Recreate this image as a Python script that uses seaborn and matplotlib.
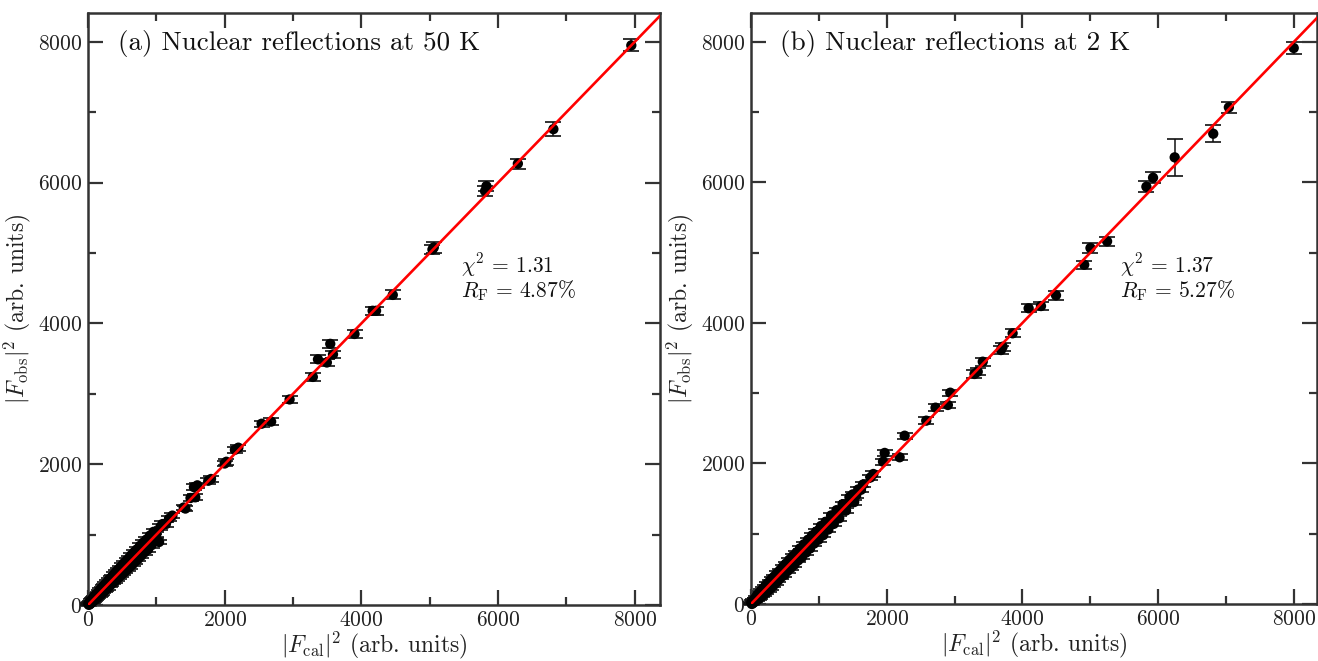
import numpy as np
import pandas as pd
import matplotlib
matplotlib.use("Agg")
import matplotlib.pyplot as plt
from matplotlib.ticker import MultipleLocator
import seaborn as sns

# ---------------- data ----------------
# Panel (a): 50 K -- strong, well separated reflections
calc_50_hi = [7950, 6810, 6290, 5830, 5810, 5060, 5040, 4460, 4215, 4165,
              3900, 3545, 3585, 3365, 3495, 3290, 2950, 2680, 2540, 2200,
              2150, 2025, 2000, 1800, 1760, 1600, 1550, 1570, 1500, 1425,
              1400, 1235, 1185, 1140, 1040]
obs_50_hi = [7950, 6760, 6270, 5950, 5880, 5080, 5050, 4405, 4180, 4180,
             3850, 3710, 3560, 3490, 3445, 3240, 2920, 2605, 2575, 2235,
             2205, 2035, 2010, 1790, 1765, 1700, 1675, 1530, 1520, 1370,
             1385, 1270, 1225, 1150, 895]
err_50_hi = [85, 95, 70, 75, 75, 80, 70, 65, 60, 60,
             60, 60, 55, 55, 55, 55, 50, 45, 45, 45,
             45, 40, 40, 40, 40, 40, 40, 40, 38, 38,
             38, 35, 35, 35, 33]
# Panel (a): weak reflections (dense band)
calc_50_lo = [5, 12, 18, 25, 30, 38, 45, 52, 60, 68,
              75, 82, 90, 100, 108, 115, 125, 132, 140, 150,
              160, 170, 178, 188, 198, 205, 215, 225, 235, 245,
              255, 268, 280, 292, 305, 318, 330, 342, 355, 368,
              380, 395, 410, 425, 440, 455, 470, 485, 500, 515,
              530, 548, 565, 580, 600, 618, 635, 655, 675, 695,
              715, 735, 760, 780, 805, 830, 855, 880, 905, 930,
              960, 990, 1060, 1090,
              40, 110, 170, 230, 300, 360, 420, 490, 560, 620,
              690, 750, 820, 870, 940, 1000]
obs_50_lo = [15, 2, 30, 10, 45, 20, 65, 35, 80, 45,
             100, 60, 115, 75, 135, 90, 155, 105, 170, 120,
             195, 140, 215, 150, 235, 170, 255, 190, 275, 205,
             300, 225, 325, 245, 355, 275, 380, 295, 405, 320,
             435, 340, 470, 370, 500, 395, 530, 425, 565, 450,
             600, 480, 630, 510, 670, 545, 710, 580, 750, 620,
             790, 655, 840, 700, 885, 750, 930, 790, 985, 850,
             1040, 920, 1110, 1150,
             42, 112, 175, 228, 305, 358, 425, 488, 565, 618,
             695, 748, 825, 868, 945, 1005]
err_50_lo = [15, 15, 15, 16, 16, 16, 17, 17, 17, 18,
             18, 18, 19, 19, 19, 20, 20, 20, 21, 21,
             21, 22, 22, 22, 23, 23, 23, 24, 24, 24,
             25, 25, 25, 26, 26, 26, 27, 27, 27, 28,
             28, 28, 29, 29, 29, 30, 30, 30, 30, 30,
             31, 31, 31, 32, 32, 32, 32, 33, 33, 33,
             33, 34, 34, 34, 34, 35, 35, 35, 35, 36,
             36, 36, 38, 38,
             16, 19, 21, 23, 25, 27, 28, 30, 31, 32,
             33, 34, 34, 35, 35, 36]

# Panel (b): 2 K -- strong reflections
calc_2_hi = [7997, 7041, 6811, 6243, 5924, 5826, 5247, 5002, 4910, 4494,
             4273, 4091, 3855, 3683, 3708, 3415, 3341, 3293, 2936, 2901,
             2719, 2582, 2264, 2190, 1970, 1945, 1803, 1760]
obs_2_hi = [7912, 7068, 6692, 6356, 6066, 5938, 5161, 5066, 4828, 4393,
            4240, 4208, 3852, 3614, 3661, 3448, 3306, 3273, 3007, 2832,
            2794, 2609, 2395, 2088, 2150, 2025, 1850, 1800]
err_2_hi = [85, 75, 120, 265, 80, 75, 65, 65, 60, 60,
            60, 55, 55, 55, 55, 55, 50, 50, 45, 45,
            45, 45, 45, 40, 42, 40, 40, 40]
# Panel (b): weak reflections (dense band)
calc_2_lo = [5, 12, 20, 28, 35, 45, 55, 65, 75, 88,
             100, 112, 125, 138, 150, 165, 180, 195, 210, 225,
             240, 258, 275, 292, 310, 328, 345, 365, 385, 405,
             425, 448, 470, 492, 515, 540, 565, 590, 615, 640,
             668, 695, 720, 750, 780, 810, 840, 870, 900, 930,
             960, 995, 1030, 1065, 1100, 1140, 1180, 1220, 1260, 1300,
             1350, 1400, 1450, 1500, 1520, 1580, 1650,
             60, 130, 200, 270, 340, 420, 500, 580, 660, 740,
             820, 900, 980, 1060, 1150, 1250, 1330, 1420, 1550, 1620]
obs_2_lo = [18, 0, 35, 12, 55, 25, 75, 40, 100, 55,
            135, 75, 160, 95, 190, 115, 220, 140, 255, 165,
            290, 195, 325, 225, 365, 260, 395, 300, 440, 340,
            480, 385, 530, 415, 575, 470, 630, 515, 680, 560,
            730, 620, 790, 665, 850, 730, 915, 790, 975, 860,
            1030, 915, 1110, 980, 1170, 1060, 1260, 1140, 1335, 1220,
            1420, 1330, 1520, 1560, 1450, 1630, 1700,
            62, 135, 198, 275, 338, 425, 498, 585, 658, 745,
            818, 905, 978, 1065, 1148, 1255, 1328, 1425, 1548, 1625]
err_2_lo = [15, 15, 15, 16, 16, 16, 17, 17, 17, 18,
            18, 18, 19, 19, 19, 20, 20, 20, 21, 21,
            21, 22, 22, 22, 23, 23, 23, 24, 24, 24,
            25, 25, 25, 26, 26, 26, 27, 27, 27, 28,
            28, 28, 29, 29, 29, 30, 30, 30, 31, 31,
            31, 32, 32, 32, 33, 33, 33, 34, 34, 34,
            35, 35, 36, 36, 37, 37, 38,
            17, 19, 21, 23, 25, 27, 28, 29, 30, 31,
            32, 33, 33, 34, 35, 35, 36, 36, 37, 38]

line_x = [0, 8500]
line_y = [0, 8500]

titles = ["(a) Nuclear reflections at 50 K", "(b) Nuclear reflections at 2 K"]
chi2_vals = ["1.31", "1.37"]
rf_vals = ["4.87", "5.27"]
x_ticks = [0, 2000, 4000, 6000, 8000]
y_ticks = [0, 2000, 4000, 6000, 8000]

# ---------------- style ----------------
sns.set_theme(style="ticks")
plt.rcParams["font.family"] = ["cmr10", "DejaVu Serif"]
plt.rcParams["mathtext.fontset"] = "cm"
plt.rcParams["axes.formatter.use_mathtext"] = True
plt.rcParams["axes.unicode_minus"] = False

spine_col = "#333333"

fig = plt.figure(figsize=(13.18, 6.61), dpi=100)
ax_pos = [[88 / 1318, 1 - 605 / 661, 572 / 1318, 592 / 661],
          [751 / 1318, 1 - 604 / 661, 566 / 1318, 591 / 661]]
limits = [((0, 8370), (0, 8410)), ((0, 8340), (0, 8410))]
datasets = [(calc_50_hi + calc_50_lo, obs_50_hi + obs_50_lo, err_50_hi + err_50_lo),
            (calc_2_hi + calc_2_lo, obs_2_hi + obs_2_lo, err_2_hi + err_2_lo)]

for i in range(2):
    ax = fig.add_axes(ax_pos[i])
    c, o, e = datasets[i]
    df = pd.DataFrame({"calc": c, "obs": o, "err": e})
    ax.errorbar(df["calc"], df["obs"], yerr=df["err"], fmt="none", ecolor="#111111",
                elinewidth=1.1, capsize=6.0, capthick=1.2, zorder=2, clip_on=False)
    sns.scatterplot(data=df, x="calc", y="obs", ax=ax, color="black", s=55,
                    edgecolor="none", linewidth=0, zorder=3, clip_on=False, legend=False)
    ldf = pd.DataFrame({"x": line_x, "y": line_y})
    sns.lineplot(data=ldf, x="x", y="y", ax=ax, color="#ff0000", linewidth=1.9, zorder=4)

    ax.set_xlim(*limits[i][0])
    ax.set_ylim(*limits[i][1])
    ax.set_xticks(x_ticks)
    ax.set_yticks(y_ticks)
    ax.xaxis.set_minor_locator(MultipleLocator(1000))
    ax.yaxis.set_minor_locator(MultipleLocator(1000))
    ax.tick_params(which="both", direction="in", top=True, right=True,
                   color=spine_col, width=1.6, labelsize=15.5, labelcolor="#222222")
    ax.tick_params(which="major", length=11, pad=4)
    ax.tick_params(which="minor", length=6)
    for sp in ax.spines.values():
        sp.set_color(spine_col)
        sp.set_linewidth(1.8)

    ax.set_xlabel(r"$|F_{\rm cal}|^2$ (arb. units)", fontsize=17, color="#222222", labelpad=0)
    ax.set_ylabel(r"$|F_{\rm obs}|^2$ (arb. units)", fontsize=17, color="#222222", labelpad=4)

    ax.text(0.052, 0.948, titles[i], transform=ax.transAxes, fontsize=19.5,
            ha="left", va="center", color="#111111")
    ax.text(0.652, 0.574, r"$\chi^2\,=\,%s$" % chi2_vals[i], transform=ax.transAxes,
            fontsize=15.5, ha="left", va="center", color="#111111")
    ax.text(0.652, 0.531, r"$R_{\rm F}\,=\,%s\%%$" % rf_vals[i], transform=ax.transAxes,
            fontsize=15.5, ha="left", va="center", color="#111111")

fig.savefig("out.png", dpi=100)
